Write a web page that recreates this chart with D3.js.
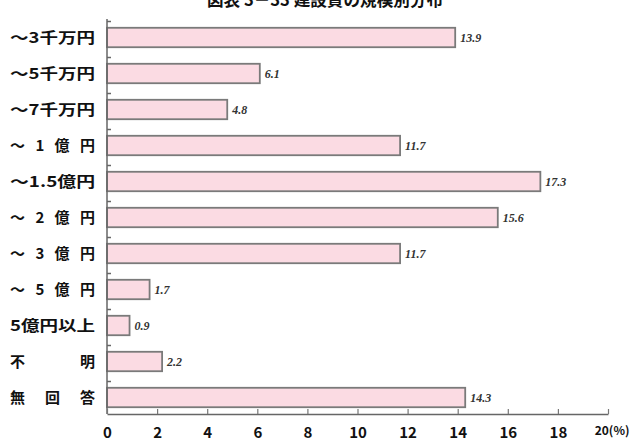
<!DOCTYPE html>
<html>
<head>
<meta charset="utf-8">
<script src="https://cdn.jsdelivr.net/npm/d3@7"></script>
<style>
  html, body { margin: 0; padding: 0; background: #fff; }
  svg { display: block; }
</style>
</head>
<body>
<script>
// Cost brackets and their share (%)
const categories = ["～3千万円", "～5千万円", "～7千万円", "～ 1 億 円", "～1.5億円", "～ 2 億 円", "～ 3 億 円", "～ 5 億 円", "5億円以上", "不　　明", "無 回 答"];
const values = [13.9, 6.1, 4.8, 11.7, 17.3, 15.6, 11.7, 1.7, 0.9, 2.2, 14.3];
const tickValues = [0, 2, 4, 6, 8, 10, 12, 14, 16, 18, 20];
const tickLabels = ["0", "2", "4", "6", "8", "10", "12", "14", "16", "18", "20(%)"];
const titleText = "図表 3－33 建設費の規模別分布";

const W = 640, H = 441;
const svg = d3.select("body").append("svg").attr("width", W).attr("height", H);

const x = d3.scaleLinear().domain([0, 20]).range([107, 608]);
const y = d3.scaleBand().domain(categories).range([19.5, 415.5])
  .paddingInner(0.46).paddingOuter(0.23);

const jp = "'Noto Sans CJK JP', 'Noto Sans', sans-serif";

// Title along the top edge
svg.append("text")
  .attr("x", 207).attr("y", 6)
  .attr("textLength", 236).attr("lengthAdjust", "spacingAndGlyphs")
  .style("font-family", jp).style("font-weight", 700).style("font-size", "17px")
  .attr("fill", "#111").text(titleText);

// Bars
svg.append("g").selectAll("rect").data(categories).join("rect")
  .attr("x", x(0))
  .attr("y", d => y(d))
  .attr("width", (d, i) => x(values[i]) - x(0))
  .attr("height", y.bandwidth())
  .attr("fill", "#fbdbe3")
  .attr("stroke", "#7a7a7a")
  .attr("stroke-width", 1.8);

// Value labels
svg.append("g").selectAll("text").data(categories).join("text")
  .attr("x", (d, i) => x(values[i]) + 5)
  .attr("y", d => y(d) + y.bandwidth() / 2 + 4)
  .style("font-family", "'Liberation Serif', 'DejaVu Serif', serif")
  .style("font-style", "italic").style("font-weight", 700).style("font-size", "12px")
  .attr("fill", "#333")
  .text((d, i) => values[i].toFixed(1));

// Left axis line with short ticks at each band boundary
const axisG = svg.append("g").attr("stroke", "#666").attr("stroke-width", 1.5);
axisG.append("line").attr("x1", x(0)).attr("x2", x(0)).attr("y1", 19).attr("y2", 414);
const gap = y.step() * y.paddingInner() / 2;
axisG.selectAll("line.yt").data(categories).join("line").attr("class", "yt")
  .attr("x1", x(0)).attr("x2", x(0) + 4)
  .attr("y1", d => y(d) - gap + 2).attr("y2", d => y(d) - gap + 2);

// Category labels, all set to the same width
svg.append("g").selectAll("text").data(categories).join("text")
  .attr("x", 10)
  .attr("y", d => y(d) + y.bandwidth() / 2 + 5.5)
  .attr("textLength", 85)
  .attr("lengthAdjust", d => /[ 　]/.test(d) ? "spacing" : "spacingAndGlyphs")
  .style("font-family", jp).style("font-weight", 700).style("font-size", "15px")
  .attr("fill", "#111")
  .text(d => d);

// Bottom axis
const xAxis = d3.axisBottom(x).tickValues(tickValues).tickSize(-5).tickSizeOuter(0)
  .tickFormat((d, i) => tickLabels[i]);
const xg = svg.append("g").attr("transform", "translate(0,414)").call(xAxis);
xg.select(".domain").attr("stroke", "#666").attr("stroke-width", 1.5);
xg.selectAll(".tick line").attr("stroke", "#777").attr("stroke-width", 1.2);
xg.selectAll(".tick text")
  .attr("y", 10).attr("dy", "0.9em")
  .style("font-family", jp).style("font-weight", 700).style("font-size", "15px")
  .attr("fill", "#111");
xg.selectAll(".tick text").filter((d, i) => i === tickLabels.length - 1)
  .style("font-size", "12px").attr("dx", "0.3em");
</script>
</body>
</html>
